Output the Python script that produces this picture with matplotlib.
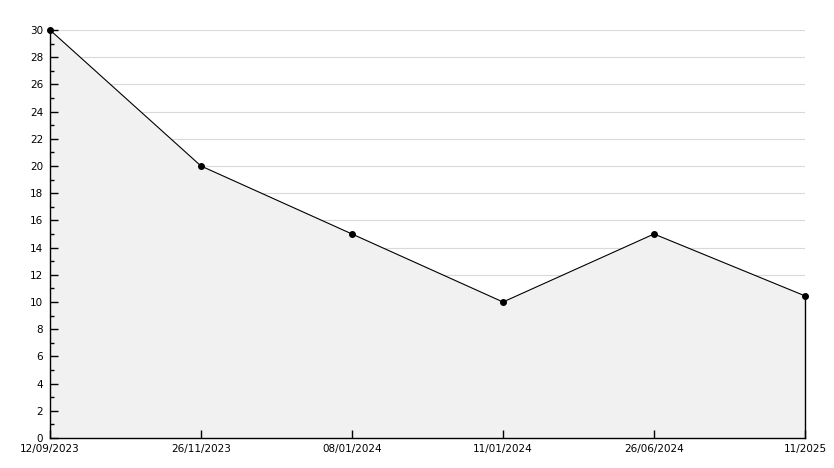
import matplotlib
matplotlib.use("Agg")
import matplotlib.pyplot as plt
from matplotlib.ticker import MultipleLocator

categories = ["12/09/2023", "26/11/2023", "08/01/2024", "11/01/2024", "26/06/2024", "11/2025"]
values = [30, 20, 15, 10, 15, 10.45]
y_ticks = list(range(0, 31, 2))

W, H = 834, 468
fig = plt.figure(figsize=(W / 100, H / 100), dpi=100)
ax = fig.add_axes([50 / W, 30 / H, (805 - 50) / W, (438 - 30) / H])

x = list(range(len(categories)))
for yt in y_ticks[1:]:
    ax.axhline(yt, color="#d9d9d9", lw=0.8, zorder=0.5)
ax.fill_between(x, values, 0, color="#f1f1f1", zorder=1, linewidth=0)
ax.plot([x[-1], x[-1]], [0, values[-1]], color="black", lw=1, zorder=3, clip_on=False)
ax.plot(x, values, color="black", lw=0.8, marker="o", markersize=4, zorder=4, clip_on=False)

ax.set_xlim(x[0], x[-1])
ax.set_ylim(0, 30)
ax.set_xticks(x)
ax.set_xticklabels(categories)
ax.set_yticks(y_ticks)
ax.yaxis.set_minor_locator(MultipleLocator(1))
ax.set_axisbelow(False)

for s in ["top", "right"]:
    ax.spines[s].set_visible(False)
for s in ["left", "bottom"]:
    ax.spines[s].set_linewidth(1.0)
    ax.spines[s].set_zorder(5)

ax.tick_params(axis="y", which="major", direction="in", length=6, width=1, labelsize=7.5, pad=5)
ax.tick_params(axis="y", which="minor", direction="in", length=3, width=1)
ax.tick_params(axis="x", which="major", direction="in", length=6, width=1, labelsize=7.5, pad=4)
ax.set_facecolor("white")

fig.savefig("out.png", dpi=100)
